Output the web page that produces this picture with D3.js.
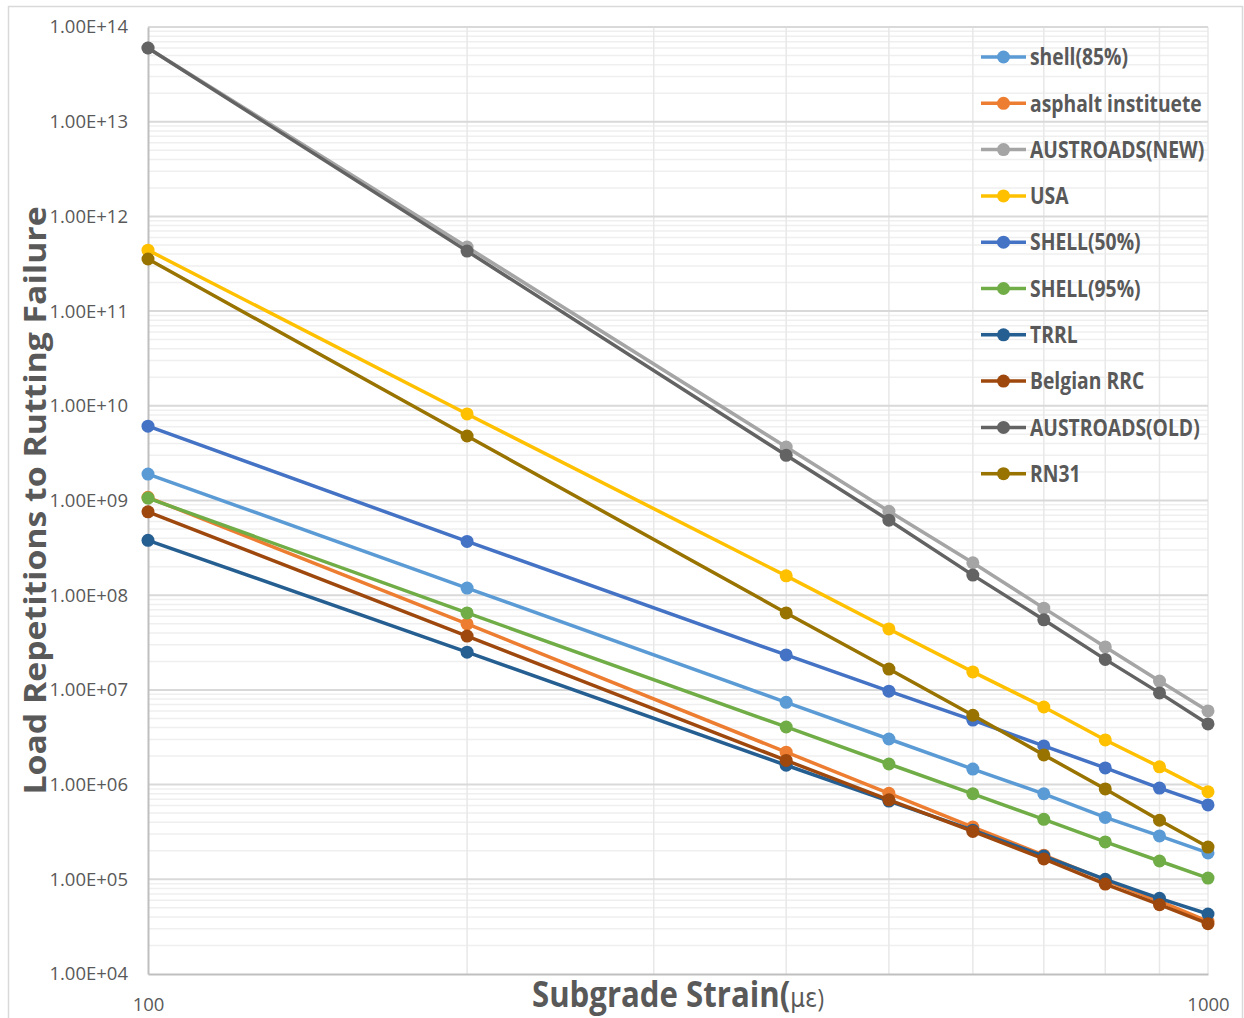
<!DOCTYPE html>
<html>
<head>
<meta charset="utf-8">
<script src="https://cdn.jsdelivr.net/npm/d3@7"></script>
<style>
  body { margin: 0; background: #fff; }
  text { fill: #595959; font-family: 'Open Sans', sans-serif; }
</style>
</head>
<body>
<script>
var w = 1244,
    h = 1018;

var margin = {
    top: 27,
    right: 36,
    bottom: 44,
    left: 148
};

var width = w - margin.left - margin.right,
    height = h - margin.top - margin.bottom;

// subgrade strain (micro strain) where the curves were evaluated
var strains = [100, 200, 400, 500, 600, 700, 800, 900, 1000];

// load repetitions
var shell85      = [1.9e9, 1.19e8, 7.4e6, 3.03e6, 1.46e6, 8.0e5, 4.5e5, 2.87e5, 1.9e5];
var asphaltInst  = [1.08e9, 4.97e7, 2.2e6, 8.1e5, 3.56e5, 1.8e5, 9.8e4, 5.9e4, 3.6e4];
var austroadsNew = [6.0e13, 4.75e11, 3.67e9, 7.7e8, 2.2e8, 7.3e7, 2.84e7, 1.24e7, 6.0e6];
var usa          = [4.4e11, 8.2e9, 1.6e8, 4.4e7, 1.55e7, 6.6e6, 2.96e6, 1.54e6, 8.4e5];
var shell50      = [6.1e9, 3.7e8, 2.34e7, 9.7e6, 4.8e6, 2.56e6, 1.5e6, 9.2e5, 6.1e5];
var shell95      = [1.06e9, 6.5e7, 4.06e6, 1.65e6, 8.0e5, 4.3e5, 2.48e5, 1.56e5, 1.03e5];
var trrl         = [3.8e8, 2.5e7, 1.6e6, 6.7e5, 3.3e5, 1.76e5, 1.0e5, 6.3e4, 4.3e4];
var belgianRRC   = [7.6e8, 3.7e7, 1.8e6, 6.9e5, 3.2e5, 1.64e5, 8.9e4, 5.4e4, 3.4e4];
var austroadsOld = [6.0e13, 4.3e11, 3.0e9, 6.2e8, 1.63e8, 5.5e7, 2.1e7, 9.3e6, 4.37e6];
var rn31         = [3.55e11, 4.8e9, 6.5e7, 1.66e7, 5.4e6, 2.06e6, 9.0e5, 4.2e5, 2.19e5];

var seriesNames = ["shell(85%)", "asphalt instituete", "AUSTROADS(NEW)", "USA", "SHELL(50%)",
    "SHELL(95%)", "TRRL", "Belgian RRC", "AUSTROADS(OLD)", "RN31"];
var seriesValues = [shell85, asphaltInst, austroadsNew, usa, shell50,
    shell95, trrl, belgianRRC, austroadsOld, rn31];
var colors = ["#5B9BD5", "#ED7D31", "#A5A5A5", "#FFC000", "#4472C4",
    "#70AD47", "#255E91", "#9E480E", "#636363", "#997300"];

var xTicks = [100, 1000];
var yTicks = [1e4, 1e5, 1e6, 1e7, 1e8, 1e9, 1e10, 1e11, 1e12, 1e13, 1e14];

var series = seriesNames.map(function(name, i) {
    return {
        name: name,
        color: colors[i],
        values: strains.map(function(s, j) { return { strain: s, n: seriesValues[i][j] }; })
    };
});

var x = d3.scaleLog()
    .domain([100, 1000])
    .range([0, width]);

var y = d3.scaleLog()
    .domain([1e4, 1e14])
    .range([height, 0]);

var line = d3.line()
    .x(function(d) { return x(d.strain); })
    .y(function(d) { return y(d.n); });

var svg = d3.select("body").append("svg")
    .attr("width", w)
    .attr("height", h);

// chart border
svg.append("rect")
    .attr("x", 8.5)
    .attr("y", 6.5)
    .attr("width", 1234)
    .attr("height", h)
    .attr("fill", "none")
    .attr("stroke", "#d9d9d9")
    .attr("stroke-width", 1.5);

var chart = svg.append("g")
    .attr("transform", "translate(" + margin.left + "," + margin.top + ")");

// minor gridlines (2..9 in every decade)
var minorY = [];
yTicks.slice(0, -1).forEach(function(t) {
    for (var k = 2; k < 10; k++) minorY.push(t * k);
});

chart.append("g")
    .attr("class", "grid-minor")
    .selectAll("line")
    .data(minorY)
    .enter().append("line")
    .attr("x1", 0)
    .attr("x2", width)
    .attr("y1", function(d) { return y(d); })
    .attr("y2", function(d) { return y(d); })
    .attr("stroke", "#efefef")
    .attr("stroke-width", 1.5);

var gridX = d3.range(200, 1001, 100);
chart.append("g")
    .attr("class", "grid-x")
    .selectAll("line")
    .data(gridX)
    .enter().append("line")
    .attr("x1", function(d) { return x(d); })
    .attr("x2", function(d) { return x(d); })
    .attr("y1", 0)
    .attr("y2", height)
    .attr("stroke", "#e8e8e8")
    .attr("stroke-width", 1.5);

chart.append("g")
    .attr("class", "grid-major")
    .selectAll("line")
    .data(yTicks.slice(1))
    .enter().append("line")
    .attr("x1", 0)
    .attr("x2", width)
    .attr("y1", function(d) { return y(d); })
    .attr("y2", function(d) { return y(d); })
    .attr("stroke", "#d9d9d9")
    .attr("stroke-width", 2);

// axes
var fmt = function(d) {
    var e = Math.round(Math.log10(d));
    return "1.00E+" + (e < 10 ? "0" + e : e);
};

chart.append("g")
    .attr("class", "axis axis--y")
    .call(d3.axisLeft(y).tickValues(yTicks).tickFormat(fmt).tickSize(0).tickPadding(20));

chart.append("g")
    .attr("class", "axis axis--x")
    .attr("transform", "translate(0," + height + ")")
    .call(d3.axisBottom(x).tickValues(xTicks).tickFormat(d3.format("d")).tickSize(0).tickPadding(24));

chart.selectAll(".axis path")
    .attr("stroke", "#bfbfbf")
    .attr("stroke-width", 2);

chart.selectAll(".axis text")
    .attr("font-family", "'Open Sans', sans-serif")
    .attr("font-size", 18.5)
    .attr("fill", "#595959");

// series
var lines = chart.selectAll(".series")
    .data(series)
    .enter().append("g")
    .attr("class", "series");

lines.append("path")
    .attr("d", function(d) { return line(d.values); })
    .attr("fill", "none")
    .attr("stroke", function(d) { return d.color; })
    .attr("stroke-width", 3.5);

lines.selectAll("circle")
    .data(function(d) { return d.values.map(function(v) { return { v: v, color: d.color }; }); })
    .enter().append("circle")
    .attr("cx", function(d) { return x(d.v.strain); })
    .attr("cy", function(d) { return y(d.v.n); })
    .attr("r", 6.5)
    .attr("fill", function(d) { return d.color; });

// legend
var legend = svg.append("g")
    .attr("class", "legend")
    .attr("transform", "translate(981,57)");

var item = legend.selectAll(".item")
    .data(series)
    .enter().append("g")
    .attr("class", "item")
    .attr("transform", function(d, i) { return "translate(0," + (i * 46.3) + ")"; });

item.append("line")
    .attr("x1", 0)
    .attr("x2", 45)
    .attr("stroke", function(d) { return d.color; })
    .attr("stroke-width", 3.5);

item.append("circle")
    .attr("cx", 22.5)
    .attr("r", 6.5)
    .attr("fill", function(d) { return d.color; });

// text in the original is a narrow face, so squeeze it sideways
item.append("text")
    .attr("transform", "translate(49,0) scale(0.84,1)")
    .attr("dy", "0.36em")
    .attr("font-weight", "bold")
    .attr("font-size", 23)
    .text(function(d) { return d.name; });

// axis titles
svg.append("text")
    .attr("transform", "translate(46," + (margin.top + height / 2) + ") rotate(-90) scale(1.09,1)")
    .attr("text-anchor", "middle")
    .attr("font-weight", "bold")
    .attr("font-size", 31)
    .text("Load Repetitions to Rutting Failure");

var xTitle = svg.append("text")
    .attr("transform", "translate(" + (margin.left + width / 2) + ",1007) scale(0.89,1)")
    .attr("text-anchor", "middle")
    .attr("font-weight", "bold")
    .attr("font-size", 35);

xTitle.append("tspan").text("Subgrade Strain(");
xTitle.append("tspan")
    .attr("font-weight", "normal")
    .attr("font-size", 26)
    .attr("font-family", "'DejaVu Sans', sans-serif")
    .text("με");
xTitle.append("tspan")
    .attr("font-weight", "normal")
    .attr("font-size", 25)
    .text(")");
</script>
</body>
</html>
